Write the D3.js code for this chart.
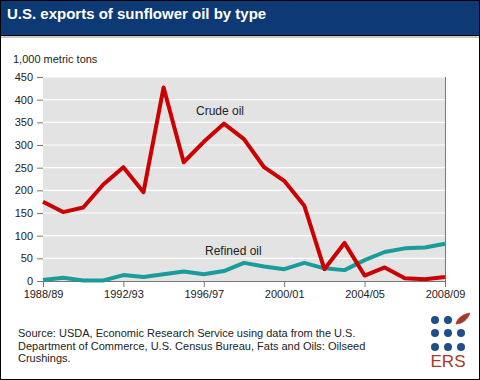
<!DOCTYPE html>
<html><head><meta charset="utf-8">
<script src="https://cdn.jsdelivr.net/npm/d3@7"></script>
<style>body{margin:0;background:#fff}svg{display:block}</style>
</head><body>
<script>
const years = ["1988/89","1989/90","1990/91","1991/92","1992/93","1993/94","1994/95","1995/96","1996/97","1997/98","1998/99","1999/00","2000/01","2001/02","2002/03","2003/04","2004/05","2005/06","2006/07","2007/08","2008/09"];
const crude = [175,152,162,213,251,196,427,262,307,347,313,251,221,166,26,84,12,30,6,4,9];
const refined = [2,7,1,1,13,9,15,21,15,22,40,32,26,40,28,24,46,64,72,74,82];
const yTicks = [0,50,100,150,200,250,300,350,400,450];
const xTickLabels = ["1988/89","1992/93","1996/97","2000/01","2004/05","2008/09"];

const W = 480, H = 380;
const svg = d3.select("body").append("svg").attr("width", W).attr("height", H)
  .style("font-family", "Arial, 'Liberation Sans', sans-serif");

svg.append("rect").attr("x",0.5).attr("y",0.5).attr("width",W-1).attr("height",H-1)
  .attr("fill","#fff").attr("stroke","#000");
svg.append("rect").attr("x",1).attr("y",36).attr("width",W-2).attr("height",2).attr("fill","#c8c8c8");
svg.append("rect").attr("x",0.5).attr("y",0.5).attr("width",W-1).attr("height",35)
  .attr("fill","#0d3a74").attr("stroke","#000");
svg.append("text").attr("x",7).attr("y",19).attr("fill","#fff").attr("font-weight","bold")
  .attr("font-size",15).text("U.S. exports of sunflower oil by type");

svg.append("text").attr("x",13).attr("y",63).attr("font-size",11).attr("fill","#222").text("1,000 metric tons");

const x = d3.scalePoint().domain(years).range([43,445]);
const y = d3.scaleLinear().domain([0,450]).range([281,77]);

svg.append("rect").attr("x",43).attr("y",77).attr("width",402).attr("height",204).attr("fill","#e3e3e3");
svg.append("g").selectAll("line").data(yTicks.filter(d=>d>0)).join("line")
  .attr("x1",43).attr("x2",445).attr("y1",d=>y(d)).attr("y2",d=>y(d))
  .attr("stroke","#fff").attr("stroke-width",1.2);
svg.append("line").attr("x1",445.5).attr("x2",445.5).attr("y1",77).attr("y2",281).attr("stroke","#777");

const ya = svg.append("g").attr("transform","translate(43,0)")
  .call(d3.axisLeft(y).tickValues(yTicks).tickSize(6).tickPadding(4));
ya.select(".domain").remove();
ya.selectAll("line").attr("stroke","#777");
ya.selectAll("text").attr("font-size",11).attr("fill","#222").attr("font-family","Arial, 'Liberation Sans', sans-serif");

const xa = svg.append("g").attr("transform","translate(0,281)")
  .call(d3.axisBottom(x).tickValues(xTickLabels).tickSize(6).tickSizeOuter(0).tickPadding(3));
xa.select(".domain").attr("stroke","#777");
xa.selectAll("line").attr("stroke","#777");
xa.selectAll("text").attr("font-size",11).attr("fill","#222").attr("font-family","Arial, 'Liberation Sans', sans-serif");

const line = d3.line().x((d,i)=>x(years[i])).y(d=>y(d));
svg.append("path").datum(refined).attr("d",line).attr("fill","none")
  .attr("stroke","#1a9c9a").attr("stroke-width",4).attr("stroke-linejoin","round");
svg.append("path").datum(crude).attr("d",line).attr("fill","none")
  .attr("stroke","#cc0000").attr("stroke-width",4).attr("stroke-linejoin","round");

svg.append("text").attr("x",196).attr("y",115).attr("font-size",12).attr("fill","#222").text("Crude oil");
svg.append("text").attr("x",205).attr("y",255).attr("font-size",12).attr("fill","#222").text("Refined oil");

const src = ["Source: USDA, Economic Research Service using data from the U.S.",
  "Department of Commerce, U.S. Census Bureau, Fats and Oils: Oilseed",
  "Crushings."];
svg.append("g").selectAll("text").data(src).join("text")
  .attr("x",18).attr("y",(d,i)=>337+i*12.5).attr("font-size",11).attr("fill","#222").text(d=>d);

// ERS logo
const dots = [[435,320],[448,320],[435,333],[448,333],[461,333],[435,347],[448,347],[461,347]];
svg.append("g").selectAll("circle").data(dots).join("circle")
  .attr("cx",d=>d[0]).attr("cy",d=>d[1]).attr("r",4).attr("fill","#1f4e8c");
svg.append("path").attr("d","M456,324 C457,318 463,314 470,313 C468,319 463,324 456,324 Z M456,324 L466,316")
  .attr("fill","#a33a2a").attr("stroke","#a33a2a").attr("stroke-width",0.6);
svg.append("text").attr("x",448).attr("y",367).attr("text-anchor","middle").attr("font-size",17)
  .attr("fill","#a33a2a").text("ERS");
</script>
</body></html>
